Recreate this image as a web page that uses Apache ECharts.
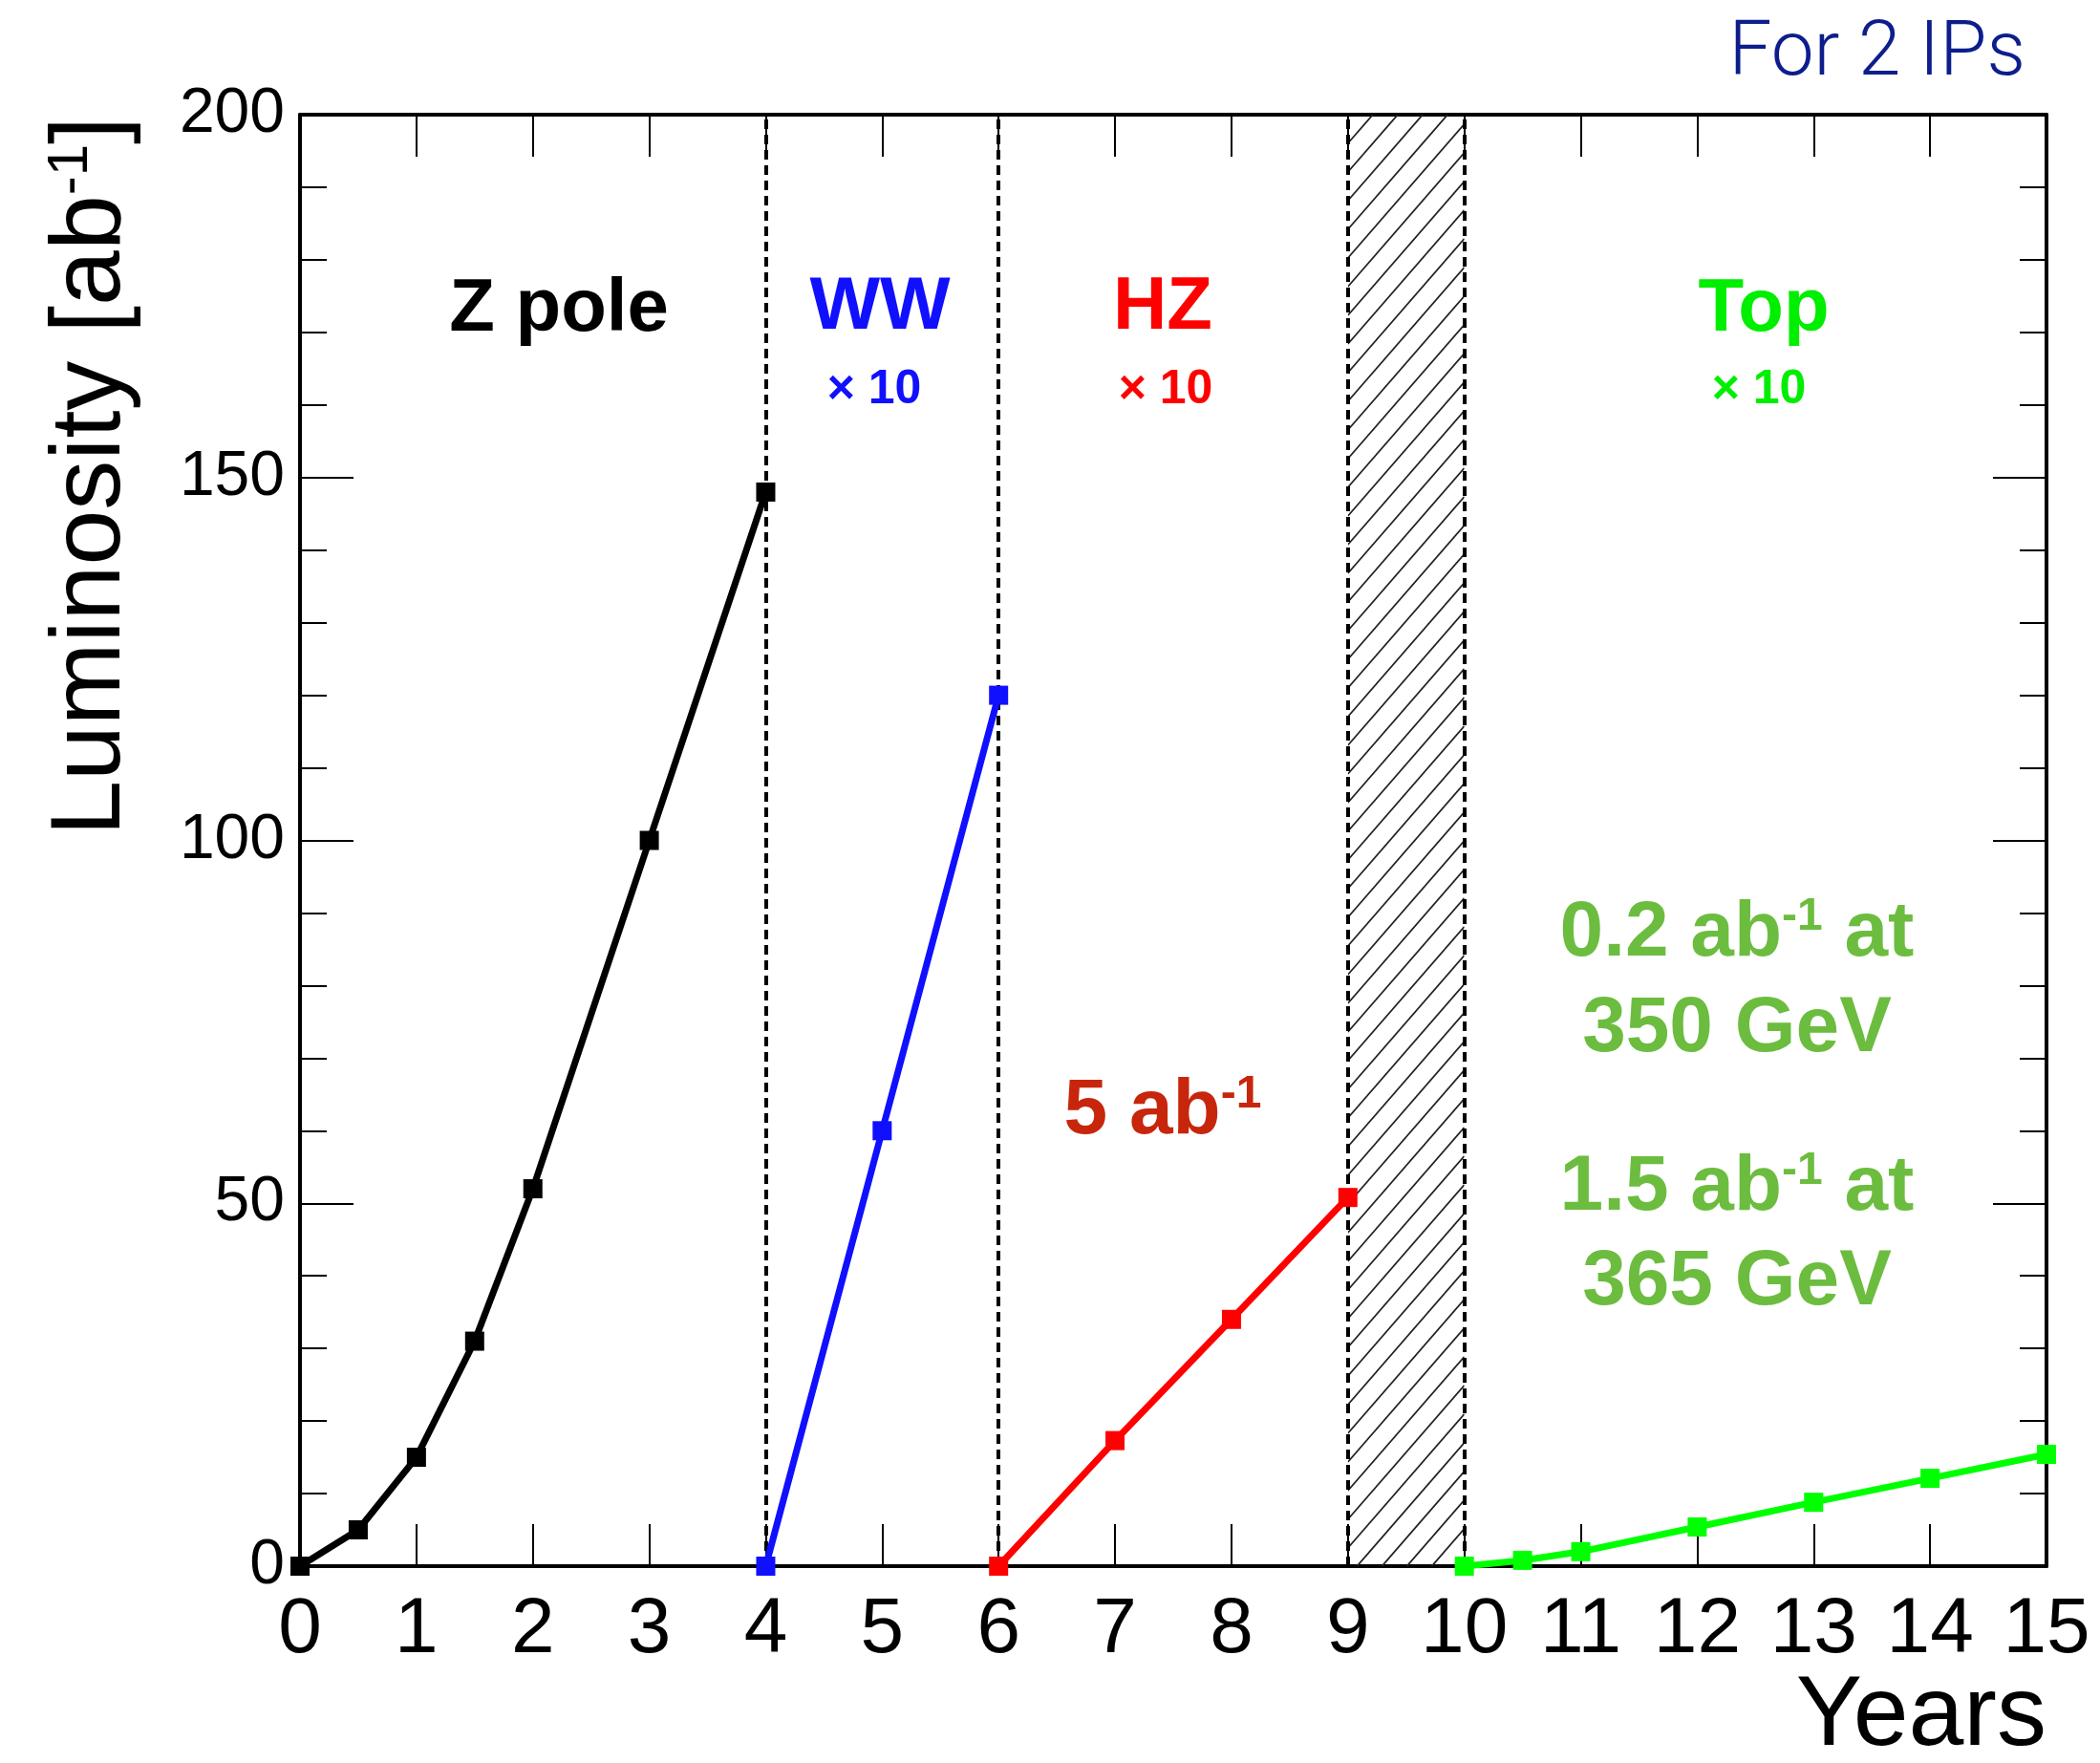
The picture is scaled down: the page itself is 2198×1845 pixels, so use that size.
<!DOCTYPE html>
<html>
<head>
<meta charset="utf-8">
<script src="https://cdn.jsdelivr.net/npm/echarts@6/dist/echarts.min.js"></script>
<style>
html,body{margin:0;padding:0;background:#fff;}
#chart{width:2198px;height:1845px;}
</style>
</head>
<body>
<div id="chart"></div>
<script>
// ---- data ----
const yearsZ = [0, 0.5, 1, 1.5, 2, 3, 4];
const lumiZ = [0, 5, 15, 31, 52, 100, 148];
const yearsWW = [4, 5, 6];
const lumiWW = [0, 60, 120];
const yearsHZ = [6, 7, 8, 9];
const lumiHZ = [0, 17.3, 34, 50.8];
const yearsTop = [10, 10.5, 11, 12, 13, 14, 15];
const lumiTop = [0, 0.8, 2.0, 5.4, 8.8, 12.1, 15.4];
const phaseBoundaries = [4, 6, 9, 10];
const shutdownPeriod = [9, 10];
const xRange = [0, 15];
const yRange = [0, 200];

function pairs(xs, ys) { return xs.map((x, i) => [x, ys[i]]); }

const FONT = '"Liberation Sans", Arial, Helvetica, sans-serif';
const chart = echarts.init(document.getElementById('chart'));

function lineSeries(name, xs, ys, color, extra) {
  return Object.assign({
    name: name,
    type: 'line',
    data: pairs(xs, ys),
    symbol: 'rect',
    symbolSize: 20,
    showSymbol: true,
    lineStyle: { color: color, width: 7 },
    itemStyle: { color: color },
    z: 5,
    animation: false
  }, extra || {});
}

const supRich = function (color, size, supSize) {
  return {
    a: { fontSize: size, fontWeight: 'bold', fill: color, fontFamily: FONT },
    s: { fontSize: supSize, fontWeight: 'bold', fill: color, fontFamily: FONT, verticalAlign: 'top' }
  };
};

function txt(x, y, text, color, size, opts) {
  return Object.assign({
    type: 'text', x: x, y: y, z: 20,
    style: Object.assign({
      text: text, fill: color, fontSize: size, fontWeight: 'bold', fontFamily: FONT,
      align: 'center', verticalAlign: 'middle'
    }, (opts && opts.style) || {})
  }, (opts && opts.el) || {});
}

const green2 = '#6cbd3f';
const axisLineStyle = { color: '#000', width: 4 };
const tickStyle = { color: '#000', width: 2 };
const option = {
  backgroundColor: '#fff',
  animation: false,
  grid: { left: 314, right: 56, top: 120, bottom: 206, containLabel: false },
  xAxis: [
    {
      type: 'value', min: xRange[0], max: xRange[1], interval: 1, position: 'bottom',
      axisLine: { show: true, onZero: false, lineStyle: axisLineStyle },
      axisTick: { show: true, inside: true, length: 44, lineStyle: tickStyle },
      axisLabel: { show: true, margin: 26, fontSize: 82, color: '#000', fontFamily: FONT },
      splitLine: { show: false }
    },
    {
      type: 'value', min: xRange[0], max: xRange[1], interval: 1, position: 'top',
      axisLine: { show: true, onZero: false, lineStyle: axisLineStyle },
      axisTick: { show: true, inside: true, length: 44, lineStyle: tickStyle },
      axisLabel: { show: false },
      splitLine: { show: false }
    }
  ],
  yAxis: [
    {
      type: 'value', min: yRange[0], max: yRange[1], interval: 50, position: 'left',
      axisLine: { show: true, onZero: false, lineStyle: axisLineStyle },
      axisTick: { show: true, inside: true, length: 56, lineStyle: tickStyle },
      minorTick: { show: true, splitNumber: 5, length: 28, lineStyle: tickStyle },
      axisLabel: { show: true, margin: 16, fontSize: 66, color: '#000', fontFamily: FONT },
      splitLine: { show: false }, minorSplitLine: { show: false }
    },
    {
      type: 'value', min: yRange[0], max: yRange[1], interval: 50, position: 'right',
      axisLine: { show: true, onZero: false, lineStyle: axisLineStyle },
      axisTick: { show: true, inside: true, length: 56, lineStyle: tickStyle },
      minorTick: { show: true, splitNumber: 5, length: 28, lineStyle: tickStyle },
      axisLabel: { show: false },
      splitLine: { show: false }, minorSplitLine: { show: false }
    }
  ],
  series: [
    {
      type: 'custom',
      name: 'shutdown',
      xAxisIndex: 0, yAxisIndex: 0,
      data: [[shutdownPeriod[0], shutdownPeriod[1]]],
      encode: { x: [0, 1] },
      silent: true,
      z: 1,
      renderItem: function (params, api) {
        const p0 = api.coord([api.value(0), yRange[1]]);
        const p1 = api.coord([api.value(1), yRange[0]]);
        const x0 = p0[0], y0 = p0[1], x1 = p1[0], y1 = p1[1];
        const w = x1 - x0, h = y1 - y0;
        const slope = 1.15, step = 30;
        const children = [];
        for (let yy = y0; yy <= y1 + w * slope + step; yy += step) {
          children.push({
            type: 'line',
            shape: { x1: x0, y1: yy, x2: x1, y2: yy - w * slope },
            style: { stroke: '#222', lineWidth: 1.8 }
          });
        }
        return {
          type: 'group',
          clipPath: { type: 'rect', shape: { x: x0, y: y0, width: w, height: h } },
          children: children
        };
      }
    },
    lineSeries('Z pole', yearsZ, lumiZ, '#000000', {
      markLine: {
        silent: true, symbol: 'none', animation: false,
        label: { show: false },
        lineStyle: { color: '#000', width: 4, type: [10, 6] },
        data: phaseBoundaries.map(v => ({ xAxis: v }))
      }
    }),
    lineSeries('WW', yearsWW, lumiWW, '#1010ff'),
    lineSeries('HZ', yearsHZ, lumiHZ, '#ff0000'),
    lineSeries('Top', yearsTop, lumiTop, '#00ff00')
  ],
  graphic: [
    txt(585, 324, 'Z pole', '#000', 78),
    txt(921, 322, 'WW', '#1010ff', 78),
    txt(915, 408, '× 10', '#1010ff', 50),
    txt(1217, 322, 'HZ', '#ff0000', 78),
    txt(1220, 408, '× 10', '#ff0000', 50),
    txt(1846, 324, 'Top', '#00ee00', 78),
    txt(1841, 408, '× 10', '#00ee00', 50),
    txt(1217, 1163, '{a|5 ab}{s|-1}', '#c8260c', 82, { style: { rich: supRich('#c8260c', 82, 48) } }),
    txt(1818, 977, '{a|0.2 ab}{s|-1}{a| at}', green2, 82, { style: { rich: supRich(green2, 82, 48) } }),
    txt(1818, 1077, '350 GeV', green2, 82),
    txt(1818, 1243, '{a|1.5 ab}{s|-1}{a| at}', green2, 82, { style: { rich: supRich(green2, 82, 48) } }),
    txt(1818, 1342, '365 GeV', green2, 82),
    txt(2120, 58, 'For 2 IPs', '#0d1e8c', 80, { style: { align: 'right', fontWeight: 300, fontFamily: 'Roboto, "Liberation Sans", sans-serif' } }),
    txt(2142, 1797, 'Years', '#000', 104, { style: { align: 'right', fontWeight: 'normal' } }),
    {
      type: 'text', x: 96, y: 122, rotation: Math.PI / 2, z: 20,
      style: {
        text: '{a|Luminosity [ab}{s|-1}{a|]}',
        align: 'right', verticalAlign: 'middle',
        rich: {
          a: { fontSize: 104, fill: '#000', fontFamily: FONT },
          s: { fontSize: 60, fill: '#000', fontFamily: FONT, verticalAlign: 'top' }
        }
      }
    }
  ]
};
chart.setOption(option);
</script>
</body>
</html>
